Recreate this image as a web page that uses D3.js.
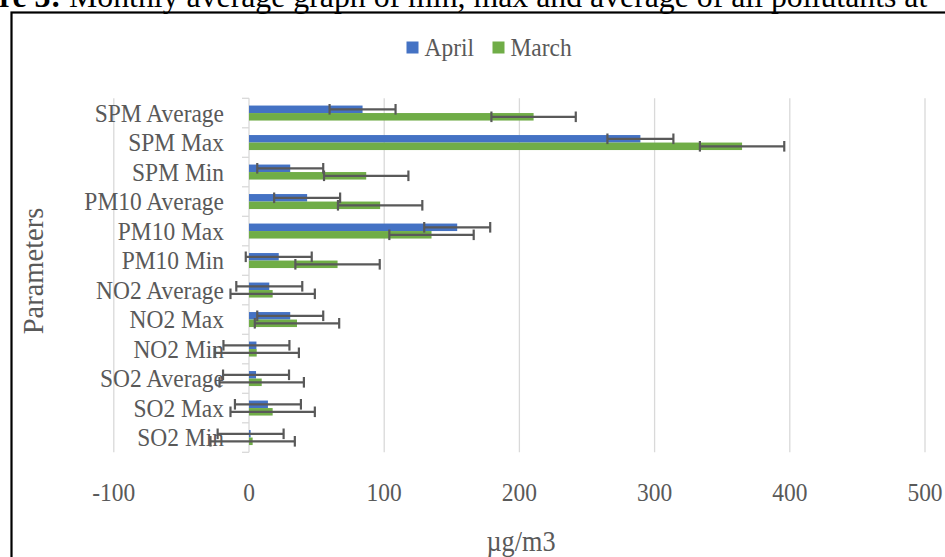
<!DOCTYPE html>
<html>
<head>
<meta charset="utf-8">
<script src="https://cdnjs.cloudflare.com/ajax/libs/d3/7.8.5/d3.min.js"></script>
<style>
  html, body { margin: 0; padding: 0; background: #fff; overflow: hidden; }
  svg { display: block; }
</style>
</head>
<body>
<script>
// ---- data ----
const categories = ["SPM Average","SPM Max","SPM Min","PM10 Average","PM10 Max","PM10 Min",
                    "NO2 Average","NO2 Max","NO2 Min","SO2 Average","SO2 Max","SO2 Min"];
const seriesNames = ["April","March"];
const aprilValues = [84, 289.5, 30.5, 43, 154, 22, 15, 30.5, 5.5, 5.2, 14, 1.2];
const marchValues = [210.5, 364.7, 86.7, 97, 135, 65.5, 17.5, 35.5, 5.7, 9.4, 17.5, 2.7];
const aprilErrors = [24.4, 24.4, 24.4, 24.4, 24.4, 24.4, 24.4, 24.4, 24.4, 24.4, 24.4, 24.4];
const marchErrors = [31.2, 31.2, 31.2, 31.2, 31.2, 31.2, 31.2, 31.2, 31.2, 31.2, 31.2, 31.2];
const xTicks = [-100, 0, 100, 200, 300, 400, 500];
const titleBold = "re 3:";
const titleRest = " Monthly average graph of min, max and average of all pollutants at";
const xTitle = "µg/m3";
const yTitle = "Parameters";

const W = 945, H = 557;
const colors = ["#4472C4", "#70AD47"];
const textColor = "#595959";
const font = "'Liberation Serif', 'Times New Roman', serif";
const fs = 25.5, sx = 0.92;

const svg = d3.select("body").append("svg").attr("width", W).attr("height", H);

// frame
svg.append("rect").attr("x", 11.5).attr("y", 12.5).attr("width", W + 20).attr("height", H + 20)
  .attr("fill", "none").attr("stroke", "#000").attr("stroke-width", 2.2);

// title (cut at top)
const title = svg.append("text").attr("x", -1).attr("y", 6.7)
  .attr("font-family", font).attr("font-size", 31.8).attr("fill", "#000");
title.append("tspan").attr("font-weight", "bold").text(titleBold);
title.append("tspan").text(titleRest);

// scales
const plot = { left: 113.8, right: 925, top: 98.3, bottom: 452.3 };
const x = d3.scaleLinear().domain([-100, 500]).range([plot.left, plot.right]);
const y = d3.scaleBand().domain(categories).range([plot.top, plot.bottom]).paddingInner(0).paddingOuter(0);
const barH = 7.5;
const sub = d3.scaleBand().domain(seriesNames).range([y.bandwidth()/2 - barH, y.bandwidth()/2 + barH]);

// gridlines
svg.append("g").selectAll("line").data(xTicks).join("line")
  .attr("x1", d => x(d)).attr("x2", d => x(d))
  .attr("y1", plot.top).attr("y2", plot.bottom)
  .attr("stroke", "#d9d9d9").attr("stroke-width", 1.3);

// category axis ticks (left of 0)
const tickPos = categories.map(c => y(c)).concat([plot.bottom]);
svg.append("g").selectAll("line").data(tickPos).join("line")
  .attr("x1", x(0) - 7).attr("x2", x(0))
  .attr("y1", d => d).attr("y2", d => d)
  .attr("stroke", "#d9d9d9").attr("stroke-width", 1.3);

// bars
const data = [];
categories.forEach((c, i) => {
  data.push({ cat: c, s: "April", v: aprilValues[i], e: aprilErrors[i] });
  data.push({ cat: c, s: "March", v: marchValues[i], e: marchErrors[i] });
});
svg.append("g").selectAll("rect").data(data).join("rect")
  .attr("x", d => x(Math.min(0, d.v)))
  .attr("width", d => Math.abs(x(d.v) - x(0)))
  .attr("y", d => y(d.cat) + sub(d.s))
  .attr("height", sub.bandwidth())
  .attr("fill", d => colors[seriesNames.indexOf(d.s)]);

// error bars
const eg = svg.append("g").attr("stroke", "#595959").attr("stroke-width", 2.2);
data.forEach(d => {
  const cy = y(d.cat) + sub(d.s) + sub.bandwidth() / 2;
  const x0 = x(d.v - d.e), x1 = x(d.v + d.e);
  eg.append("line").attr("x1", x0).attr("x2", x1).attr("y1", cy).attr("y2", cy);
  eg.append("line").attr("x1", x0).attr("x2", x0).attr("y1", cy - 5.3).attr("y2", cy + 5.3);
  eg.append("line").attr("x1", x1).attr("x2", x1).attr("y1", cy - 5.3).attr("y2", cy + 5.3);
});

// helper: horizontally condensed text
function ctext(g, tx, ty, anchor, size, str) {
  return g.append("text")
    .attr("transform", `translate(${tx},${ty}) scale(${sx},1)`)
    .attr("text-anchor", anchor)
    .attr("font-family", font).attr("font-size", size).attr("fill", textColor)
    .text(str);
}

// category labels
const catG = svg.append("g");
categories.forEach(c => ctext(catG, 224, y(c) + y.bandwidth() / 2 + 8.7, "end", fs, c));

// x tick labels
const tickG = svg.append("g");
xTicks.forEach(t => ctext(tickG, x(t), 500.5, "middle", fs, t));

// axis titles
ctext(svg, 521, 550.5, "middle", 28.5, xTitle);
svg.append("text").attr("transform", "translate(43,271) rotate(-90)")
  .attr("text-anchor", "middle").attr("font-family", font).attr("font-size", 28.5)
  .attr("fill", textColor).text(yTitle);

// legend
const legend = svg.append("g");
const legendItems = [{ name: "April", x: 406.5 }, { name: "March", x: 492.5 }];
legendItems.forEach((it, i) => {
  legend.append("rect").attr("x", it.x).attr("y", 41.5).attr("width", 12).attr("height", 12)
    .attr("fill", colors[i]);
  ctext(legend, it.x + 18, 56, "start", fs, it.name);
});
</script>
</body>
</html>
